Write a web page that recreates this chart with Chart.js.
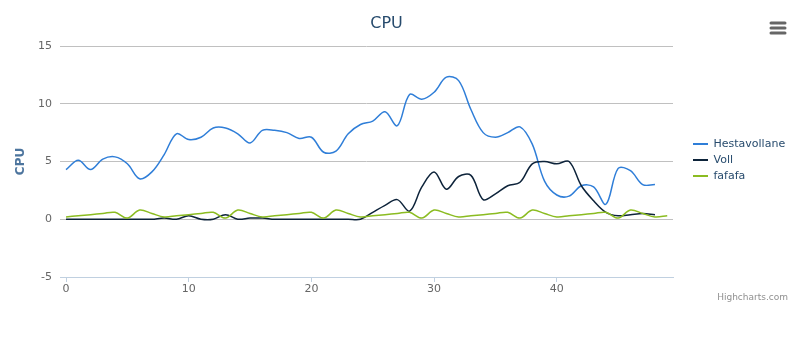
<!DOCTYPE html>
<html>
<head>
<meta charset="utf-8">
<script src="https://cdn.jsdelivr.net/npm/chart.js@4.4.1/dist/chart.umd.min.js"></script>
<style>
  html, body { margin: 0; padding: 0; background: #ffffff; }
  #wrap { width: 799px; height: 354px; position: relative; }
</style>
</head>
<body>
<div id="wrap"><canvas id="c" width="799" height="354"></canvas></div>
<script>
const categories = [0,1,2,3,4,5,6,7,8,9,10,11,12,13,14,15,16,17,18,19,20,21,22,23,24,25,26,27,28,29,30,31,32,33,34,35,36,37,38,39,40,41,42,43,44,45,46,47,48,49];
const hestavollane = [4.3,5.1,4.3,5.2,5.4,4.8,3.5,4.1,5.6,7.4,6.9,7.1,7.9,7.9,7.4,6.6,7.7,7.7,7.5,7.0,7.1,5.8,5.9,7.4,8.2,8.5,9.3,8.1,10.8,10.4,11.0,12.3,12.0,9.5,7.5,7.1,7.5,8.0,6.5,3.3,2.1,2.0,2.9,2.8,1.3,4.4,4.2,3.0,3.0];
const voll = [0,0,0,0,0,0,0,0,0.1,0,0.3,0,0,0.4,0,0.1,0.1,0,0,0,0,0,0,0,0,0.6,1.2,1.7,0.7,2.8,4.1,2.6,3.7,3.8,1.7,2.2,2.9,3.2,4.8,5.0,4.8,5.0,2.9,1.6,0.6,0.3,0.4,0.5,0.4];
const fafafa = [0.2,0.3,0.4,0.5,0.6,0.1,0.8,0.5,0.2,0.3,0.4,0.5,0.6,0.1,0.8,0.5,0.2,0.3,0.4,0.5,0.6,0.1,0.8,0.5,0.2,0.3,0.4,0.5,0.6,0.1,0.8,0.5,0.2,0.3,0.4,0.5,0.6,0.1,0.8,0.5,0.2,0.3,0.4,0.5,0.6,0.1,0.8,0.5,0.2,0.3];
const xTicks = [0,10,20,30,40];
const yTicks = [-5,0,5,10,15];
const seriesNames = ['Hestavollane','Voll','fafafa'];
const seriesColors = ['#2f7ed8','#0d233a','#8bbc21'];
const titleText = 'CPU';
const yTitleText = 'CPU';
const creditsText = 'Highcharts.com';

const FONT = '"DejaVu Sans", Verdana, sans-serif';
const toPoints = arr => arr.map((v, i) => ({x: categories[i], y: v}));

const extras = {
  id: 'extras',
  afterLayout(chart) {
    const lg = chart.legend;
    lg.left += 15; lg.right += 15;
    lg.top -= 17; lg.bottom -= 17;
  },
  afterDraw(chart) {
    const ctx = chart.ctx;
    ctx.save();
    ctx.font = '9px ' + FONT;
    ctx.fillStyle = '#909090';
    ctx.textAlign = 'right';
    ctx.textBaseline = 'middle';
    ctx.fillText(creditsText, 788, 298);
    ctx.strokeStyle = '#666666';
    ctx.lineWidth = 3;
    ctx.lineCap = 'round';
    [23, 28, 33].forEach(y => {
      ctx.beginPath(); ctx.moveTo(771, y); ctx.lineTo(785, y); ctx.stroke();
    });
    ctx.restore();
  }
};

new Chart(document.getElementById('c'), {
  type: 'line',
  data: {
    datasets: [
      {label: seriesNames[0], data: toPoints(hestavollane), borderColor: seriesColors[0], backgroundColor: seriesColors[0], order: 2},
      {label: seriesNames[1], data: toPoints(voll), borderColor: seriesColors[1], backgroundColor: seriesColors[1], order: 1},
      {label: seriesNames[2], data: toPoints(fafafa), borderColor: seriesColors[2], backgroundColor: seriesColors[2], order: 0}
    ]
  },
  options: {
    responsive: false,
    animation: false,
    devicePixelRatio: 1,
    layout: {padding: {left: 0, right: 26, top: 0, bottom: 0}},
    elements: {
      line: {borderWidth: 1.5, tension: 0.35, fill: false},
      point: {radius: 0, hoverRadius: 0}
    },
    plugins: {
      tooltip: {enabled: false},
      title: {
        display: true, text: titleText, color: '#274b6d',
        font: {family: FONT, size: 16, weight: 'normal'},
        padding: {top: 14, bottom: 12.8}
      },
      legend: {
        display: true, position: 'right', align: 'center', maxWidth: 100,
        labels: {
          color: '#274b6d', font: {family: FONT, size: 11},
          boxWidth: 15, boxHeight: 2, padding: 5,
          generateLabels(chart) {
            return chart.data.datasets.map((ds, i) => ({
              text: ds.label, fillStyle: ds.borderColor, strokeStyle: ds.borderColor,
              lineWidth: 0, hidden: false, datasetIndex: i, fontColor: '#274b6d'
            }));
          }
        }
      }
    },
    scales: {
      x: {
        type: 'linear', min: -0.49, max: 49.47,
        afterBuildTicks: s => { s.ticks = xTicks.map(v => ({value: v})); },
        afterFit: s => { s.height = 77; },
        grid: {drawOnChartArea: false, drawTicks: true, tickLength: 5, tickColor: '#C0D0E0'},
        border: {display: true, color: '#C0D0E0', width: 1},
        ticks: {color: '#666666', font: {family: FONT, size: 11}, padding: 1, maxRotation: 0}
      },
      y: {
        type: 'linear', min: -5, max: 15,
        afterBuildTicks: s => { s.ticks = yTicks.map(v => ({value: v})); },
        afterFit: s => { s.width = 60; },
        grid: {drawTicks: false, color: ctx => (ctx.tick && ctx.tick.value === -5) ? 'rgba(0,0,0,0)' : '#C0C0C0'},
        border: {display: false},
        ticks: {color: '#666666', font: {family: FONT, size: 11}, padding: 8},
        title: {display: true, text: yTitleText, color: '#4d759e', font: {family: FONT, size: 12, weight: 'bold'}, padding: {top: 14, bottom: 0}}
      }
    }
  },
  plugins: [extras]
});
</script>
</body>
</html>
